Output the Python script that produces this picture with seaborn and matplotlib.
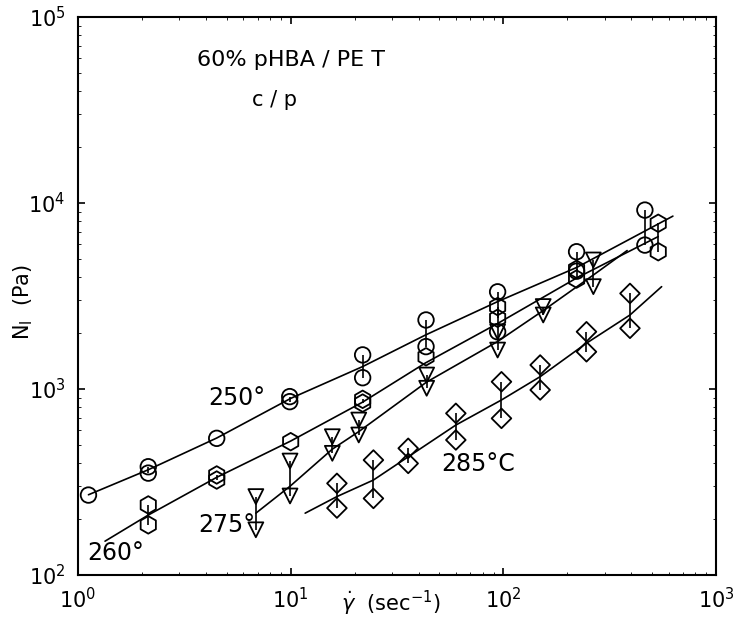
import numpy as np
import pandas as pd
import matplotlib
matplotlib.use("Agg")
import matplotlib.pyplot as plt
import seaborn as sns
from matplotlib.ticker import LogLocator, NullFormatter, FixedLocator, FixedFormatter

sns.set_theme(style="ticks")
plt.rcParams["font.family"] = ["DejaVu Sans"]
plt.rcParams["mathtext.fontset"] = "dejavusans"
plt.rcParams["text.color"] = "black"
plt.rcParams["axes.labelcolor"] = "black"
plt.rcParams["xtick.color"] = "black"
plt.rcParams["ytick.color"] = "black"

# ---- data (shear rate in 1/s, N1 in Pa) ----
series_names = ["250°", "260°", "275°", "285°C"]

x250 = [1.12, 2.14, 4.49, 9.9, 21.8, 43.3, 94, 221, 463]
hi250 = [269, 382, 543, 910, 1525, 2350, 3330, 5470, 9160]
lo250 = [269, 353, 543, 855, 1150, 1690, 2030, 4300, 5940]

x260 = [2.14, 4.49, 10, 21.8, 43.3, 94, 221, 535]
hi260 = [238, 345, 521, 880, 1490, 2775, 4400, 7780]
lo260 = [186, 324, 521, 840, 1490, 2400, 3900, 5470]

x275 = [6.86, 9.93, 15.7, 20.9, 43.6, 94, 154, 265]
hi275 = [264, 410, 554, 681, 1189, 2030, 2775, 4940]
lo275 = [175, 266, 451, 566, 1009, 1620, 2500, 3550]

x285 = [16.5, 24.5, 35.7, 59.8, 98, 149, 246, 394]
hi285 = [311, 415, 480, 740, 1094, 1346, 2032, 3265]
lo285 = [229, 258, 398, 532, 695, 988, 1585, 2120]

# drawn fit curves
fx250 = [1.12, 2.14, 4.49, 10, 21.8, 43, 94, 221, 627]
fy250 = [270, 368, 545, 890, 1320, 1950, 2950, 4500, 8500]
fx260 = [1.34, 2.14, 4.49, 10, 21.8, 43, 94, 221, 535]
fy260 = [152, 210, 335, 525, 850, 1380, 2250, 3950, 6600]
fx275 = [6.86, 9.93, 15.7, 20.9, 43.6, 94, 154, 265, 382]
fy275 = [215, 300, 475, 590, 1090, 1800, 2640, 4100, 5550]
fx285 = [11.7, 16.5, 24.5, 35.7, 59.8, 98, 149, 246, 394, 555]
fy285 = [215, 264, 324, 432, 640, 873, 1165, 1763, 2500, 3550]

xtick_vals = [1, 10, 100, 1000]
xtick_labels = [r"$10^{0}$", r"$10^{1}$", r"$10^{2}$", r"$10^{3}$"]
ytick_vals = [100, 1000, 10000, 100000]
ytick_labels = [r"$10^{2}$", r"$10^{3}$", r"$10^{4}$", r"$10^{5}$"]

points = {
    "250°": (x250, hi250, lo250, "o", 125),
    "260°": (x260, hi260, lo260, "h", 160),
    "275°": (x275, hi275, lo275, "v", 115),
    "285°C": (x285, hi285, lo285, "D", 100),
}
fits = {
    "250°": (fx250, fy250),
    "260°": (fx260, fy260),
    "275°": (fx275, fy275),
    "285°C": (fx285, fy285),
}

fit_df = pd.concat(
    [pd.DataFrame({"rate": fx, "N1": fy, "series": k}) for k, (fx, fy) in fits.items()],
    ignore_index=True,
)

fig = plt.figure(figsize=(7.41, 6.28), dpi=100)
ax = fig.add_axes([78 / 741, 1 - 575 / 628, (716 - 78) / 741, (575 - 17) / 628])
ax.set_xscale("log")
ax.set_yscale("log")

sns.lineplot(data=fit_df, x="rate", y="N1", units="series", estimator=None,
             sort=False, color="black", lw=1.2, ax=ax, legend=False)

for name, (xs, hs, ls, mk, sz) in points.items():
    ax.vlines(xs, ls, hs, color="black", lw=1.2, zorder=3)
    pdf = pd.DataFrame({"rate": list(xs) + list(xs), "N1": list(hs) + list(ls)})
    pdf = pdf.drop_duplicates()
    sns.scatterplot(data=pdf, x="rate", y="N1", marker=mk, s=sz,
                    facecolors="none", edgecolor="black", linewidth=1.3,
                    ax=ax, legend=False, zorder=4)

ax.set_xlim(1, 1000)
ax.set_ylim(100, 100000)

ax.xaxis.set_major_locator(FixedLocator(xtick_vals))
ax.xaxis.set_major_formatter(FixedFormatter(xtick_labels))
ax.yaxis.set_major_locator(FixedLocator(ytick_vals))
ax.yaxis.set_major_formatter(FixedFormatter(ytick_labels))
ax.xaxis.set_minor_locator(LogLocator(base=10, subs=np.arange(2, 10), numticks=20))
ax.yaxis.set_minor_locator(LogLocator(base=10, subs=np.arange(2, 10), numticks=20))
ax.xaxis.set_minor_formatter(NullFormatter())
ax.yaxis.set_minor_formatter(NullFormatter())
ax.tick_params(which="major", direction="in", length=5, width=1.2, labelsize=15,
               top=True, right=True, pad=9)
ax.tick_params(which="minor", direction="in", length=2, width=0.6,
               top=True, right=True)
for sp in ax.spines.values():
    sp.set_linewidth(1.5)
    sp.set_color("black")
    sp.set_visible(True)

ax.set_xlabel(r"$\dot{\gamma}$  (sec$^{-1}$)", fontsize=15)
ax.xaxis.set_label_coords(0.49, -0.025)
ax.set_ylabel(r"N$_{\mathrm{I}}$  (Pa)", fontsize=15)
ax.yaxis.set_label_coords(-0.068, 0.49)


def px(xp, yp):
    return ((xp - 78) / 638, (575 - yp) / 558)


annotations = [
    ("60% pHBA / PE T", 291, 60, 16),
    ("c / p", 275, 100, 15),
    ("250°", 237, 398, 17),
    ("260°", 116, 553, 17),
    ("275°", 227, 525, 17),
    ("285°C", 478, 464, 17),
]
for txt, xp, yp, fs in annotations:
    tx, ty = px(xp, yp)
    ax.text(tx, ty, txt, transform=ax.transAxes, fontsize=fs,
            ha="center", va="center", color="black")

fig.savefig("out.png", dpi=100, facecolor="white")
